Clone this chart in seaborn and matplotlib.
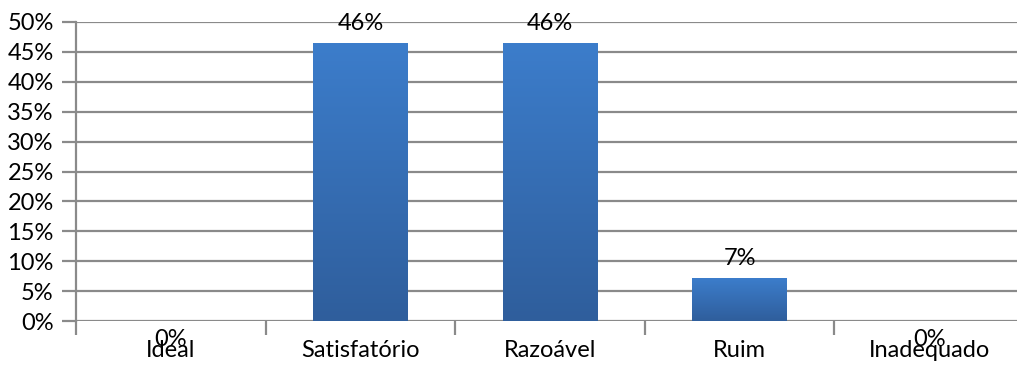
import numpy as np
import pandas as pd
import matplotlib
matplotlib.use("Agg")
import matplotlib.pyplot as plt
import seaborn as sns
from matplotlib.colors import LinearSegmentedColormap

categories = ["Ideal", "Satisfatório", "Razoável", "Ruim", "Inadequado"]
values = [0.0, 46.43, 46.43, 7.14, 0.0]
labels = ["0%", "46%", "46%", "7%", "0%"]
yticks = [0, 5, 10, 15, 20, 25, 30, 35, 40, 45, 50]

sns.set_theme(style="white")
plt.rcParams['font.family'] = ['Lato', 'DejaVu Sans']
FS = 17

W, H = 1017, 367
fig = plt.figure(figsize=(W / 100, H / 100), dpi=100)
left, right, bottom, top = 76, 1024, 321, 22
ax = fig.add_axes([left / W, (H - bottom) / H, (right - left) / W, (bottom - top) / H])

df = pd.DataFrame({"cat": categories, "val": values})
sns.barplot(data=df, x="cat", y="val", ax=ax, color="#3A78C3", width=0.5,
            saturation=1, edgecolor="none")

ax.set_ylim(0, 50)
ax.set_xlim(-0.5, len(categories) - 0.5)
ax.set_yticks(yticks)
ax.set_yticklabels([f"{t}%" for t in yticks], fontsize=FS, color="#000000")
ax.yaxis.grid(True, color="#8a8a8a", linewidth=1.6)
ax.set_axisbelow(True)

for s in ["top", "right", "bottom"]:
    ax.spines[s].set_visible(False)
ax.spines["left"].set_color("#8a8a8a")
ax.spines["left"].set_linewidth(1.6)

ax.tick_params(axis="y", which="major", length=10, width=1.6, color="#8a8a8a", pad=6, left=True)
ax.set_xticks(range(len(categories)))
ax.set_xticklabels(categories, fontsize=FS, color="#000000")
ax.tick_params(axis="x", which="major", length=0, pad=14)
ax.set_xticks(np.arange(-0.5, len(categories), 1.0), minor=True)
ax.tick_params(axis="x", which="minor", length=10, width=1.6, color="#8a8a8a", bottom=True)
ax.set_xlabel("")
ax.set_ylabel("")

# gradient fill for bars
cmap = LinearSegmentedColormap.from_list("g", ["#2F5E9C", "#3C7DCB"])
grad = np.linspace(0, 1, 256).reshape(-1, 1)
for p in ax.patches:
    h = p.get_height()
    if h <= 0:
        continue
    x0 = p.get_x()
    w = p.get_width()
    im = ax.imshow(grad, cmap=cmap, aspect="auto", origin="lower",
                   extent=[x0, x0 + w, 0, h], zorder=p.get_zorder() + 0.1)
    im.set_clip_path(p)

ax.set_xlim(-0.5, len(categories) - 0.5)
ax.set_ylim(0, 50)

for i, (v, lab) in enumerate(zip(values, labels)):
    dy = 20 if v > 0 else -19
    ax.annotate(lab, (i, v), xytext=(0, dy), textcoords="offset pixels",
                ha="center", va="center", fontsize=FS, color="#000000",
                annotation_clip=False)

fig.savefig("out.png", dpi=100)
